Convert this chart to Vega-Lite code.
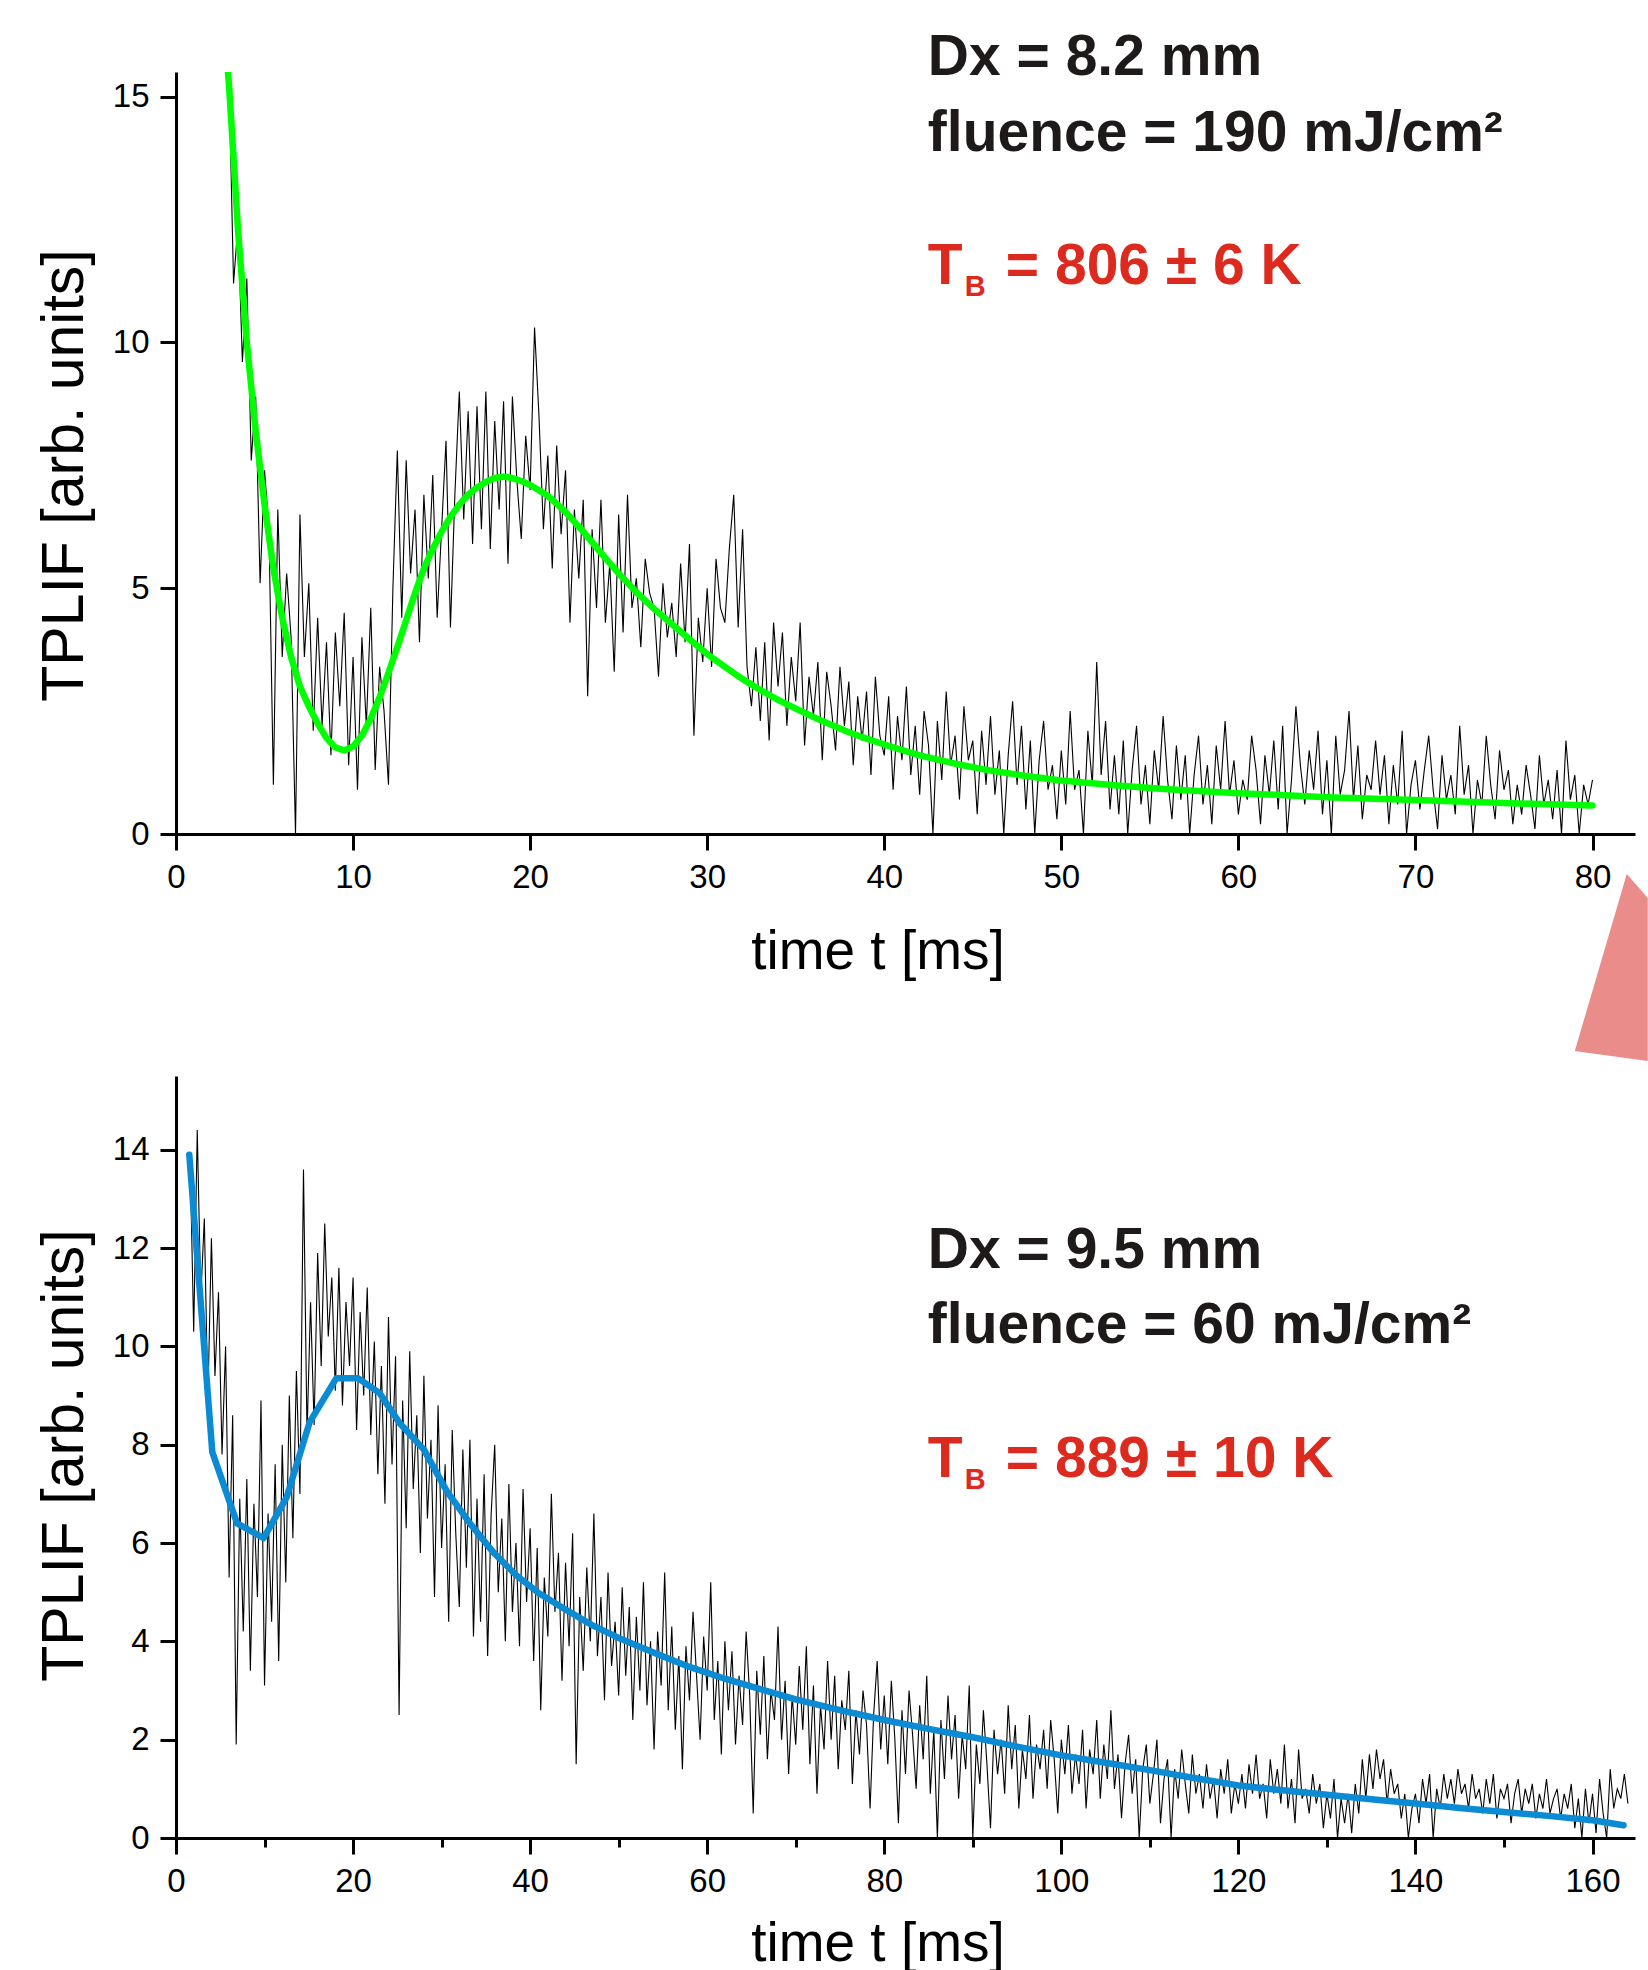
{
"$schema": "https://vega.github.io/schema/vega-lite/v6.json",
"background": "white",
"padding": {"left": 35, "top": 29, "right": 0, "bottom": 0},
"autosize": {"type": "pad"},
"bounds": "flush",
"spacing": 242,
"config": {
  "view": {"stroke": null},
  "axis": {"domainColor": "black", "domainWidth": 3, "tickColor": "black", "tickWidth": 3, "tickSize": 16,
    "labelFont": "Liberation Sans", "labelFontSize": 33, "labelColor": "black", "labelPadding": 11,
    "titleFont": "Liberation Sans", "titleColor": "black", "titleFontWeight": "normal",
    "grid": false, "labelFlush": false, "labelOverlap": false}
},
"datasets": {
"topNoise": [
{"t":3,"v":15.3},{"t":3.25,"v":11.2},{"t":3.5,"v":12.4},{"t":3.75,"v":9.6},
{"t":4,"v":11.3},{"t":4.25,"v":7.6},{"t":4.5,"v":8.9},{"t":4.75,"v":5.1},
{"t":5,"v":7.4},{"t":5.25,"v":6.2},{"t":5.5,"v":1.0},{"t":5.75,"v":6.6},
{"t":6,"v":3.6},{"t":6.25,"v":5.3},{"t":6.5,"v":4.0},{"t":6.75,"v":0.0},
{"t":7,"v":6.5},{"t":7.25,"v":3.6},{"t":7.5,"v":5.1},{"t":7.75,"v":2.1},
{"t":8,"v":4.4},{"t":8.25,"v":2.2},{"t":8.5,"v":3.9},{"t":8.75,"v":1.6},
{"t":9,"v":4.1},{"t":9.25,"v":2.6},{"t":9.5,"v":4.5},{"t":9.75,"v":1.4},
{"t":10,"v":3.6},{"t":10.25,"v":0.9},{"t":10.5,"v":4.0},{"t":10.75,"v":2.2},
{"t":11,"v":4.6},{"t":11.25,"v":1.3},{"t":11.5,"v":3.4},{"t":11.75,"v":2.5},
{"t":12,"v":1.0},{"t":12.25,"v":5.0},{"t":12.5,"v":7.8},{"t":12.75,"v":4.4},
{"t":13,"v":7.6},{"t":13.25,"v":5.3},{"t":13.5,"v":6.6},{"t":13.75,"v":3.9},
{"t":14,"v":6.9},{"t":14.25,"v":5.2},{"t":14.5,"v":7.3},{"t":14.75,"v":4.4},
{"t":15,"v":6.2},{"t":15.25,"v":8.0},{"t":15.5,"v":4.2},{"t":15.75,"v":6.9},
{"t":16,"v":9.0},{"t":16.25,"v":6.4},{"t":16.5,"v":8.6},{"t":16.75,"v":5.9},
{"t":17,"v":8.7},{"t":17.25,"v":6.2},{"t":17.5,"v":9.0},{"t":17.75,"v":5.8},
{"t":18,"v":8.4},{"t":18.25,"v":6.6},{"t":18.5,"v":8.8},{"t":18.75,"v":5.5},
{"t":19,"v":8.9},{"t":19.25,"v":7.2},{"t":19.5,"v":6.0},{"t":19.75,"v":8.1},
{"t":20,"v":7.0},{"t":20.25,"v":10.3},{"t":20.5,"v":8.5},{"t":20.75,"v":6.2},
{"t":21,"v":7.7},{"t":21.25,"v":5.4},{"t":21.5,"v":7.9},{"t":21.75,"v":6.1},
{"t":22,"v":7.4},{"t":22.25,"v":4.3},{"t":22.5,"v":6.6},{"t":22.75,"v":5.2},
{"t":23,"v":6.8},{"t":23.25,"v":2.8},{"t":23.5,"v":6.2},{"t":23.75,"v":4.6},
{"t":24,"v":6.8},{"t":24.25,"v":4.3},{"t":24.5,"v":5.5},{"t":24.75,"v":3.3},
{"t":25,"v":6.5},{"t":25.25,"v":4.1},{"t":25.5,"v":6.9},{"t":25.75,"v":4.6},
{"t":26,"v":5.2},{"t":26.25,"v":3.8},{"t":26.5,"v":5.6},{"t":26.75,"v":4.9},
{"t":27,"v":4.6},{"t":27.25,"v":3.2},{"t":27.5,"v":5.1},{"t":27.75,"v":4.0},
{"t":28,"v":4.7},{"t":28.25,"v":3.6},{"t":28.5,"v":5.5},{"t":28.75,"v":3.9},
{"t":29,"v":5.9},{"t":29.25,"v":2.0},{"t":29.5,"v":4.4},{"t":29.75,"v":3.5},
{"t":30,"v":5.0},{"t":30.25,"v":3.4},{"t":30.5,"v":5.6},{"t":30.75,"v":4.6},
{"t":31,"v":4.3},{"t":31.25,"v":5.8},{"t":31.5,"v":6.9},{"t":31.75,"v":4.2},
{"t":32,"v":6.2},{"t":32.25,"v":3.4},{"t":32.5,"v":2.6},{"t":32.75,"v":3.8},
{"t":33,"v":2.3},{"t":33.25,"v":3.9},{"t":33.5,"v":1.9},{"t":33.75,"v":4.3},
{"t":34,"v":3.0},{"t":34.25,"v":4.1},{"t":34.5,"v":2.2},{"t":34.75,"v":3.6},
{"t":35,"v":2.7},{"t":35.25,"v":4.3},{"t":35.5,"v":1.8},{"t":35.75,"v":3.2},
{"t":36,"v":2.4},{"t":36.25,"v":3.5},{"t":36.5,"v":1.5},{"t":36.75,"v":3.3},
{"t":37,"v":2.6},{"t":37.25,"v":1.7},{"t":37.5,"v":3.4},{"t":37.75,"v":2.2},
{"t":38,"v":3.1},{"t":38.25,"v":1.4},{"t":38.5,"v":2.8},{"t":38.75,"v":1.9},
{"t":39,"v":2.9},{"t":39.25,"v":1.2},{"t":39.5,"v":3.2},{"t":39.75,"v":2.0},
{"t":40,"v":1.6},{"t":40.25,"v":2.8},{"t":40.5,"v":0.9},{"t":40.75,"v":2.4},
{"t":41,"v":1.5},{"t":41.25,"v":3.0},{"t":41.5,"v":1.2},{"t":41.75,"v":2.2},
{"t":42,"v":0.8},{"t":42.25,"v":2.5},{"t":42.5,"v":1.8},{"t":42.75,"v":0.0},
{"t":43,"v":2.3},{"t":43.25,"v":1.1},{"t":43.5,"v":2.9},{"t":43.75,"v":1.4},
{"t":44,"v":2.0},{"t":44.25,"v":0.7},{"t":44.5,"v":2.6},{"t":44.75,"v":1.5},
{"t":45,"v":1.9},{"t":45.25,"v":0.4},{"t":45.5,"v":2.1},{"t":45.75,"v":1.0},
{"t":46,"v":2.4},{"t":46.25,"v":0.8},{"t":46.5,"v":1.7},{"t":46.75,"v":0.0},
{"t":47,"v":1.6},{"t":47.25,"v":2.7},{"t":47.5,"v":1.0},{"t":47.75,"v":2.2},
{"t":48,"v":0.5},{"t":48.25,"v":1.9},{"t":48.5,"v":0.0},{"t":48.75,"v":1.5},
{"t":49,"v":2.3},{"t":49.25,"v":0.9},{"t":49.5,"v":1.4},{"t":49.75,"v":0.3},
{"t":50,"v":1.7},{"t":50.25,"v":0.6},{"t":50.5,"v":2.5},{"t":50.75,"v":0.9},
{"t":51,"v":1.3},{"t":51.25,"v":0.0},{"t":51.5,"v":2.1},{"t":51.75,"v":1.0},
{"t":52,"v":3.5},{"t":52.25,"v":1.2},{"t":52.5,"v":2.3},{"t":52.75,"v":0.5},
{"t":53,"v":1.6},{"t":53.25,"v":0.4},{"t":53.5,"v":1.9},{"t":53.75,"v":0.0},
{"t":54,"v":1.3},{"t":54.25,"v":2.2},{"t":54.5,"v":0.6},{"t":54.75,"v":1.4},
{"t":55,"v":0.2},{"t":55.25,"v":1.7},{"t":55.5,"v":0.9},{"t":55.75,"v":2.4},
{"t":56,"v":1.1},{"t":56.25,"v":0.3},{"t":56.5,"v":1.8},{"t":56.75,"v":0.7},
{"t":57,"v":1.6},{"t":57.25,"v":0.0},{"t":57.5,"v":1.2},{"t":57.75,"v":2.0},
{"t":58,"v":0.6},{"t":58.25,"v":1.4},{"t":58.5,"v":0.2},{"t":58.75,"v":1.8},
{"t":59,"v":0.9},{"t":59.25,"v":2.3},{"t":59.5,"v":0.8},{"t":59.75,"v":1.5},
{"t":60,"v":0.4},{"t":60.25,"v":1.1},{"t":60.5,"v":0.7},{"t":60.75,"v":2.0},
{"t":61,"v":1.3},{"t":61.25,"v":0.2},{"t":61.5,"v":1.6},{"t":61.75,"v":0.8},
{"t":62,"v":1.9},{"t":62.25,"v":0.5},{"t":62.5,"v":2.2},{"t":62.75,"v":0.0},
{"t":63,"v":1.1},{"t":63.25,"v":2.6},{"t":63.5,"v":1.4},{"t":63.75,"v":0.6},
{"t":64,"v":1.7},{"t":64.25,"v":0.9},{"t":64.5,"v":2.1},{"t":64.75,"v":0.4},
{"t":65,"v":1.5},{"t":65.25,"v":0.0},{"t":65.5,"v":2.0},{"t":65.75,"v":0.8},
{"t":66,"v":1.3},{"t":66.25,"v":2.5},{"t":66.5,"v":0.7},{"t":66.75,"v":1.8},
{"t":67,"v":0.3},{"t":67.25,"v":1.2},{"t":67.5,"v":0.9},{"t":67.75,"v":1.9},
{"t":68,"v":0.8},{"t":68.25,"v":1.6},{"t":68.5,"v":0.2},{"t":68.75,"v":1.4},
{"t":69,"v":0.6},{"t":69.25,"v":2.1},{"t":69.5,"v":0.0},{"t":69.75,"v":1.0},
{"t":70,"v":1.5},{"t":70.25,"v":0.5},{"t":70.5,"v":1.3},{"t":70.75,"v":2.0},
{"t":71,"v":0.9},{"t":71.25,"v":0.1},{"t":71.5,"v":1.6},{"t":71.75,"v":0.7},
{"t":72,"v":1.2},{"t":72.25,"v":0.4},{"t":72.5,"v":2.2},{"t":72.75,"v":0.8},
{"t":73,"v":1.4},{"t":73.25,"v":0.0},{"t":73.5,"v":1.1},{"t":73.75,"v":0.6},
{"t":74,"v":2.0},{"t":74.25,"v":1.0},{"t":74.5,"v":0.3},{"t":74.75,"v":1.7},
{"t":75,"v":0.9},{"t":75.25,"v":1.3},{"t":75.5,"v":0.2},{"t":75.75,"v":1.0},
{"t":76,"v":0.4},{"t":76.25,"v":1.4},{"t":76.5,"v":0.8},{"t":76.75,"v":0.1},
{"t":77,"v":1.6},{"t":77.25,"v":0.6},{"t":77.5,"v":1.1},{"t":77.75,"v":0.3},
{"t":78,"v":1.3},{"t":78.25,"v":0.0},{"t":78.5,"v":1.9},{"t":78.75,"v":0.7},
{"t":79,"v":1.2},{"t":79.25,"v":0.0},{"t":79.5,"v":1.0},{"t":79.75,"v":0.6},
{"t":80,"v":1.1}
],
"topFit": [
{"t":2.85,"v":15.9},{"t":3,"v":15.2},{"t":3.5,"v":12.3},{"t":4,"v":10.0},{"t":4.5,"v":8.2},{"t":5,"v":6.7},{"t":5.5,"v":5.4},{"t":6,"v":4.4},{"t":6.5,"v":3.6},{"t":7,"v":3.0},{"t":7.5,"v":2.6},{"t":8,"v":2.25},{"t":8.5,"v":1.95},{"t":9,"v":1.76},{"t":9.5,"v":1.7},{"t":10,"v":1.78},{"t":10.5,"v":2.0},{"t":11,"v":2.35},{"t":11.5,"v":2.78},{"t":12,"v":3.28},{"t":12.5,"v":3.8},{"t":13,"v":4.35},{"t":13.5,"v":4.9},{"t":14,"v":5.4},{"t":14.5,"v":5.8},{"t":15,"v":6.15},{"t":15.5,"v":6.45},{"t":16,"v":6.7},{"t":16.5,"v":6.9},{"t":17,"v":7.05},{"t":17.5,"v":7.16},{"t":18,"v":7.24},{"t":18.5,"v":7.27},{"t":19,"v":7.24},{"t":19.5,"v":7.18},{"t":20,"v":7.1},{"t":21,"v":6.88},{"t":22,"v":6.55},{"t":23,"v":6.15},{"t":24,"v":5.72},{"t":25,"v":5.3},{"t":26,"v":4.92},{"t":27,"v":4.58},{"t":28,"v":4.27},{"t":29,"v":3.96},{"t":30,"v":3.66},{"t":31,"v":3.4},{"t":32,"v":3.15},{"t":33,"v":2.93},{"t":34,"v":2.73},{"t":35,"v":2.55},{"t":36,"v":2.38},{"t":37,"v":2.22},{"t":38,"v":2.07},{"t":39,"v":1.94},{"t":40,"v":1.82},{"t":42,"v":1.6},{"t":44,"v":1.43},{"t":46,"v":1.29},{"t":48,"v":1.18},{"t":50,"v":1.09},{"t":53,"v":0.99},{"t":56,"v":0.91},{"t":60,"v":0.83},{"t":65,"v":0.75},{"t":70,"v":0.69},{"t":75,"v":0.63},{"t":80,"v":0.58}
],
"topText": [
{"t":42.46,"v":15.43,"label":"Dx = 8.2 mm"},
{"t":42.46,"v":13.9,"label":"fluence = 190 mJ/cm²"}
],
"topRed": [{"t":42.46,"v":11.19,"main":"T","sub":"B","rest":"= 806 ± 6 K"}],
"deco": [{"t":81.06,"v":-2.717}],
"botNoise": [
{"t":1.6,"v":13.8},
{"t":2,"v":10.3},{"t":2.4,"v":14.4},{"t":2.8,"v":11.0},{"t":3.2,"v":12.6},{"t":3.6,"v":8.9},
{"t":4,"v":12.2},{"t":4.4,"v":9.4},{"t":4.8,"v":11.1},{"t":5.2,"v":7.8},{"t":5.6,"v":10.0},
{"t":6,"v":5.3},{"t":6.4,"v":8.6},{"t":6.8,"v":1.9},{"t":7.2,"v":6.9},{"t":7.6,"v":4.2},
{"t":8,"v":7.3},{"t":8.4,"v":3.4},{"t":8.8,"v":6.8},{"t":9.2,"v":4.9},{"t":9.6,"v":8.9},
{"t":10,"v":3.1},{"t":10.4,"v":6.6},{"t":10.8,"v":4.4},{"t":11.2,"v":7.6},{"t":11.6,"v":3.6},
{"t":12,"v":8.0},{"t":12.4,"v":5.2},{"t":12.8,"v":9.0},{"t":13.2,"v":6.1},{"t":13.6,"v":9.5},
{"t":14,"v":7.0},{"t":14.4,"v":13.6},{"t":14.8,"v":8.2},{"t":15.2,"v":10.9},{"t":15.6,"v":8.4},
{"t":16,"v":11.9},{"t":16.4,"v":9.6},{"t":16.8,"v":12.5},{"t":17.2,"v":10.2},{"t":17.6,"v":11.4},
{"t":18,"v":9.1},{"t":18.4,"v":11.6},{"t":18.8,"v":8.8},{"t":19.2,"v":10.9},{"t":19.6,"v":9.6},
{"t":20,"v":11.4},{"t":20.4,"v":8.3},{"t":20.8,"v":10.7},{"t":21.2,"v":9.0},{"t":21.6,"v":11.2},
{"t":22,"v":8.2},{"t":22.4,"v":10.1},{"t":22.8,"v":7.4},{"t":23.2,"v":9.6},{"t":23.6,"v":6.8},
{"t":24,"v":10.6},{"t":24.4,"v":7.6},{"t":24.8,"v":9.8},{"t":25.2,"v":2.5},{"t":25.6,"v":8.9},
{"t":26,"v":6.3},{"t":26.4,"v":9.9},{"t":26.8,"v":7.1},{"t":27.2,"v":8.6},{"t":27.6,"v":5.8},
{"t":28,"v":9.4},{"t":28.4,"v":6.5},{"t":28.8,"v":8.1},{"t":29.2,"v":4.9},{"t":29.6,"v":8.8},
{"t":30,"v":5.9},{"t":30.4,"v":7.6},{"t":30.8,"v":4.4},{"t":31.2,"v":8.3},{"t":31.6,"v":6.2},
{"t":32,"v":4.7},{"t":32.4,"v":7.9},{"t":32.8,"v":5.5},{"t":33.2,"v":8.1},{"t":33.6,"v":4.1},
{"t":34,"v":6.9},{"t":34.4,"v":4.4},{"t":34.8,"v":7.4},{"t":35.2,"v":3.7},{"t":35.6,"v":6.6},
{"t":36,"v":8.0},{"t":36.4,"v":5.0},{"t":36.8,"v":6.5},{"t":37.2,"v":4.0},{"t":37.6,"v":7.2},
{"t":38,"v":4.6},{"t":38.4,"v":6.0},{"t":38.8,"v":3.9},{"t":39.2,"v":7.1},{"t":39.6,"v":4.8},
{"t":40,"v":6.3},{"t":40.4,"v":3.6},{"t":40.8,"v":5.9},{"t":41.2,"v":2.6},{"t":41.6,"v":5.3},
{"t":42,"v":4.1},{"t":42.4,"v":7.0},{"t":42.8,"v":4.6},{"t":43.2,"v":5.8},{"t":43.6,"v":3.2},
{"t":44,"v":5.6},{"t":44.4,"v":3.9},{"t":44.8,"v":6.2},{"t":45.2,"v":1.5},{"t":45.6,"v":4.9},
{"t":46,"v":3.4},{"t":46.4,"v":5.5},{"t":46.8,"v":4.0},{"t":47.2,"v":6.6},{"t":47.6,"v":3.7},
{"t":48,"v":4.9},{"t":48.4,"v":2.8},{"t":48.8,"v":5.4},{"t":49.2,"v":3.5},{"t":49.6,"v":4.4},
{"t":50,"v":2.9},{"t":50.4,"v":5.1},{"t":50.8,"v":3.3},{"t":51.2,"v":4.7},{"t":51.6,"v":2.4},
{"t":52,"v":4.5},{"t":52.4,"v":3.0},{"t":52.8,"v":5.2},{"t":53.2,"v":2.7},{"t":53.6,"v":4.0},
{"t":54,"v":1.8},{"t":54.4,"v":4.2},{"t":54.8,"v":3.1},{"t":55.2,"v":5.4},{"t":55.6,"v":2.6},
{"t":56,"v":4.3},{"t":56.4,"v":2.2},{"t":56.8,"v":3.7},{"t":57.2,"v":1.4},{"t":57.6,"v":3.9},
{"t":58,"v":2.8},{"t":58.4,"v":4.6},{"t":58.8,"v":3.3},{"t":59.2,"v":2.0},{"t":59.6,"v":4.1},
{"t":60,"v":3.0},{"t":60.4,"v":5.2},{"t":60.8,"v":2.4},{"t":61.2,"v":3.6},{"t":61.6,"v":1.7},
{"t":62,"v":4.0},{"t":62.4,"v":2.6},{"t":62.8,"v":3.8},{"t":63.2,"v":1.9},{"t":63.6,"v":3.3},
{"t":64,"v":2.3},{"t":64.4,"v":4.2},{"t":64.8,"v":2.9},{"t":65.2,"v":0.5},{"t":65.6,"v":3.4},
{"t":66,"v":2.1},{"t":66.4,"v":3.7},{"t":66.8,"v":1.6},{"t":67.2,"v":3.0},{"t":67.6,"v":2.4},
{"t":68,"v":4.3},{"t":68.4,"v":2.0},{"t":68.8,"v":3.2},{"t":69.2,"v":1.3},{"t":69.6,"v":2.9},
{"t":70,"v":1.9},{"t":70.4,"v":3.5},{"t":70.8,"v":2.2},{"t":71.2,"v":3.9},{"t":71.6,"v":1.5},
{"t":72,"v":3.1},{"t":72.4,"v":0.9},{"t":72.8,"v":2.7},{"t":73.2,"v":1.8},{"t":73.6,"v":3.6},
{"t":74,"v":2.0},{"t":74.4,"v":3.3},{"t":74.8,"v":1.4},{"t":75.2,"v":2.8},{"t":75.6,"v":2.2},
{"t":76,"v":3.4},{"t":76.4,"v":1.1},{"t":76.8,"v":2.6},{"t":77.2,"v":1.7},{"t":77.6,"v":3.0},
{"t":78,"v":2.3},{"t":78.4,"v":0.6},{"t":78.8,"v":2.5},{"t":79.2,"v":3.6},{"t":79.6,"v":1.8},
{"t":80,"v":2.9},{"t":80.4,"v":1.5},{"t":80.8,"v":3.2},{"t":81.2,"v":2.0},{"t":81.6,"v":0.3},
{"t":82,"v":2.6},{"t":82.4,"v":1.3},{"t":82.8,"v":3.0},{"t":83.2,"v":2.1},{"t":83.6,"v":1.0},
{"t":84,"v":2.7},{"t":84.4,"v":1.6},{"t":84.8,"v":3.3},{"t":85.2,"v":0.9},{"t":85.6,"v":2.2},
{"t":86,"v":0.0},{"t":86.4,"v":2.4},{"t":86.8,"v":1.2},{"t":87.2,"v":2.9},{"t":87.6,"v":1.6},
{"t":88,"v":2.5},{"t":88.4,"v":0.8},{"t":88.8,"v":2.1},{"t":89.2,"v":1.4},{"t":89.6,"v":3.1},
{"t":90,"v":0.0},{"t":90.4,"v":1.9},{"t":90.8,"v":1.1},{"t":91.2,"v":2.6},{"t":91.6,"v":1.5},
{"t":92,"v":0.2},{"t":92.4,"v":2.2},{"t":92.8,"v":1.3},{"t":93.2,"v":2.0},{"t":93.6,"v":0.9},
{"t":94,"v":2.7},{"t":94.4,"v":1.4},{"t":94.8,"v":2.3},{"t":95.2,"v":0.6},{"t":95.6,"v":1.8},
{"t":96,"v":1.2},{"t":96.4,"v":2.5},{"t":96.8,"v":0.8},{"t":97.2,"v":1.9},{"t":97.6,"v":1.4},
{"t":98,"v":2.2},{"t":98.4,"v":1.0},{"t":98.8,"v":2.4},{"t":99.2,"v":1.6},{"t":99.6,"v":0.5},
{"t":100,"v":2.0},{"t":100.4,"v":1.3},{"t":100.8,"v":2.3},{"t":101.2,"v":0.9},{"t":101.6,"v":1.7},
{"t":102,"v":1.1},{"t":102.4,"v":2.2},{"t":102.8,"v":0.6},{"t":103.2,"v":1.8},{"t":103.6,"v":1.3},
{"t":104,"v":2.4},{"t":104.4,"v":0.8},{"t":104.8,"v":1.9},{"t":105.2,"v":1.2},{"t":105.6,"v":2.6},
{"t":106,"v":1.0},{"t":106.4,"v":1.7},{"t":106.8,"v":0.4},{"t":107.2,"v":1.5},{"t":107.6,"v":2.1},
{"t":108,"v":0.9},{"t":108.4,"v":1.6},{"t":108.8,"v":0.0},{"t":109.2,"v":1.4},{"t":109.6,"v":1.9},
{"t":110,"v":0.7},{"t":110.4,"v":1.3},{"t":110.8,"v":2.0},{"t":111.2,"v":0.3},{"t":111.6,"v":1.2},
{"t":112,"v":1.6},{"t":112.4,"v":0.0},{"t":112.8,"v":1.4},{"t":113.2,"v":0.8},{"t":113.6,"v":1.8},
{"t":114,"v":1.1},{"t":114.4,"v":0.5},{"t":114.8,"v":1.7},{"t":115.2,"v":0.9},{"t":115.6,"v":1.3},
{"t":116,"v":0.6},{"t":116.4,"v":1.5},{"t":116.8,"v":0.8},{"t":117.2,"v":1.2},{"t":117.6,"v":0.4},
{"t":118,"v":1.4},{"t":118.4,"v":0.9},{"t":118.8,"v":1.6},{"t":119.2,"v":0.5},{"t":119.6,"v":1.1},
{"t":120,"v":0.7},{"t":120.4,"v":1.3},{"t":120.8,"v":0.6},{"t":121.2,"v":1.5},{"t":121.6,"v":0.9},
{"t":122,"v":1.7},{"t":122.4,"v":0.8},{"t":122.8,"v":1.1},{"t":123.2,"v":0.4},{"t":123.6,"v":1.6},
{"t":124,"v":0.9},{"t":124.4,"v":1.4},{"t":124.8,"v":0.7},{"t":125.2,"v":1.9},{"t":125.6,"v":0.6},
{"t":126,"v":1.2},{"t":126.4,"v":0.3},{"t":126.8,"v":1.8},{"t":127.2,"v":0.8},{"t":127.6,"v":1.0},
{"t":128,"v":0.5},{"t":128.4,"v":1.3},{"t":128.8,"v":0.7},{"t":129.2,"v":1.1},{"t":129.6,"v":0.2},
{"t":130,"v":0.9},{"t":130.4,"v":0.4},{"t":130.8,"v":1.2},{"t":131.2,"v":0.0},{"t":131.6,"v":0.8},
{"t":132,"v":0.3},{"t":132.4,"v":0.9},{"t":132.8,"v":0.1},{"t":133.2,"v":1.1},{"t":133.6,"v":0.5},
{"t":134,"v":1.6},{"t":134.4,"v":0.8},{"t":134.8,"v":1.7},{"t":135.2,"v":1.0},{"t":135.6,"v":1.8},
{"t":136,"v":1.2},{"t":136.4,"v":1.6},{"t":136.8,"v":0.7},{"t":137.2,"v":1.4},{"t":137.6,"v":0.9},
{"t":138,"v":1.1},{"t":138.4,"v":0.4},{"t":138.8,"v":0.9},{"t":139.2,"v":0.0},{"t":139.6,"v":0.6},
{"t":140,"v":0.9},{"t":140.4,"v":0.3},{"t":140.8,"v":1.2},{"t":141.2,"v":0.7},{"t":141.6,"v":1.3},
{"t":142,"v":0.0},{"t":142.4,"v":1.0},{"t":142.8,"v":0.6},{"t":143.2,"v":1.3},{"t":143.6,"v":0.8},
{"t":144,"v":1.2},{"t":144.4,"v":0.7},{"t":144.8,"v":1.4},{"t":145.2,"v":0.9},{"t":145.6,"v":1.1},
{"t":146,"v":0.6},{"t":146.4,"v":1.3},{"t":146.8,"v":0.8},{"t":147.2,"v":1.0},{"t":147.6,"v":0.5},
{"t":148,"v":1.2},{"t":148.4,"v":0.7},{"t":148.8,"v":1.3},{"t":149.2,"v":0.4},{"t":149.6,"v":1.0},
{"t":150,"v":0.8},{"t":150.4,"v":1.1},{"t":150.8,"v":0.3},{"t":151.2,"v":0.9},{"t":151.6,"v":1.2},
{"t":152,"v":0.5},{"t":152.4,"v":1.0},{"t":152.8,"v":0.7},{"t":153.2,"v":1.1},{"t":153.6,"v":0.4},
{"t":154,"v":0.9},{"t":154.4,"v":0.6},{"t":154.8,"v":1.2},{"t":155.2,"v":0.5},{"t":155.6,"v":0.8},
{"t":156,"v":1.0},{"t":156.4,"v":0.4},{"t":156.8,"v":0.9},{"t":157.2,"v":0.6},{"t":157.6,"v":1.1},
{"t":158,"v":0.2},{"t":158.4,"v":0.8},{"t":158.8,"v":0.0},{"t":159.2,"v":1.0},{"t":159.6,"v":0.3},
{"t":160,"v":0.9},{"t":160.4,"v":0.1},{"t":160.8,"v":1.2},{"t":161.2,"v":0.5},{"t":161.6,"v":0.0},
{"t":162,"v":1.4},{"t":162.4,"v":0.6},{"t":162.8,"v":1.0},{"t":163.2,"v":0.8},{"t":163.6,"v":1.3},
{"t":164,"v":0.7}
],
"botFit": [
{"t":1.5,"v":13.9},{"t":4.1,"v":7.85},{"t":6.9,"v":6.4},{"t":9.9,"v":6.1},{"t":12.5,"v":6.93},{"t":15.1,"v":8.46},{"t":18.1,"v":9.35},{"t":20.6,"v":9.35},{"t":23,"v":9.05},{"t":25.3,"v":8.43},{"t":28,"v":7.9},{"t":30.6,"v":7.05},{"t":33.2,"v":6.4},{"t":35.8,"v":5.82},{"t":38.4,"v":5.35},{"t":41,"v":4.98},{"t":44,"v":4.65},{"t":47,"v":4.33},{"t":50,"v":4.07},{"t":54,"v":3.77},{"t":58,"v":3.48},{"t":62,"v":3.24},{"t":66,"v":3.03},{"t":70,"v":2.82},{"t":75,"v":2.6},{"t":80,"v":2.4},{"t":85,"v":2.22},{"t":90,"v":2.05},{"t":95,"v":1.86},{"t":100,"v":1.68},{"t":105,"v":1.53},{"t":110,"v":1.38},{"t":115,"v":1.22},{"t":120,"v":1.07},{"t":125,"v":0.97},{"t":130,"v":0.88},{"t":135,"v":0.79},{"t":140,"v":0.7},{"t":145,"v":0.61},{"t":150,"v":0.53},{"t":155,"v":0.45},{"t":160,"v":0.36},{"t":163.5,"v":0.26}
],
"botText": [
{"t":84.92,"v":11.59,"label":"Dx = 9.5 mm"},
{"t":84.92,"v":10.06,"label":"fluence = 60 mJ/cm²"}
],
"botRed": [{"t":84.92,"v":7.34,"main":"T","sub":"B","rest":"= 889 ± 10 K"}]
},
"vconcat": [
{
  "width": 1459, "height": 762,
  "layer": [
    {"data": {"name": "topNoise"},
     "mark": {"type": "line", "color": "black", "strokeWidth": 1.1},
     "encoding": {
       "x": {"field": "t", "type": "quantitative", "scale": {"domain": [0, 82.4], "nice": false, "zero": false},
             "axis": {"values": [0,10,20,30,40,50,60,70,80], "title": "time t [ms]", "titleFontSize": 55,
                      "titleX": 701.5, "titleY": 134, "titleBaseline": "alphabetic", "titleAlign": "center", "titleAngle": 0}},
       "y": {"field": "v", "type": "quantitative", "scale": {"domain": [0, 15.5], "nice": false},
             "axis": {"values": [0,5,10,15], "title": "TPLIF [arb. units]", "titleFontSize": 59,
                      "titleX": -94, "titleY": 403, "titleAngle": -90, "titleBaseline": "alphabetic", "titleAlign": "center"}}
     }},
    {"data": {"name": "topFit"},
     "mark": {"type": "line", "color": "#00ff00", "strokeWidth": 6.5, "strokeCap": "round", "strokeJoin": "round", "clip": true},
     "encoding": {"x": {"field": "t", "type": "quantitative"}, "y": {"field": "v", "type": "quantitative"}}},
    {"data": {"name": "topText"},
     "mark": {"type": "text", "align": "left", "baseline": "alphabetic", "font": "Liberation Sans", "fontWeight": "bold", "fontSize": 57, "color": "#1e1a1a"},
     "encoding": {"x": {"field": "t", "type": "quantitative"}, "y": {"field": "v", "type": "quantitative"}, "text": {"field": "label"}}},
    {"data": {"name": "topRed"},
     "mark": {"type": "text", "align": "left", "baseline": "alphabetic", "font": "Liberation Sans", "fontWeight": "bold", "fontSize": 57, "color": "#dc2a1f"},
     "encoding": {"x": {"field": "t", "type": "quantitative"}, "y": {"field": "v", "type": "quantitative"}, "text": {"field": "main"}}},
    {"data": {"name": "topRed"},
     "mark": {"type": "text", "align": "left", "baseline": "alphabetic", "font": "Liberation Sans", "fontWeight": "bold", "fontSize": 29, "dx": 37, "dy": 12, "color": "#dc2a1f"},
     "encoding": {"x": {"field": "t", "type": "quantitative"}, "y": {"field": "v", "type": "quantitative"}, "text": {"field": "sub"}}},
    {"data": {"name": "topRed"},
     "mark": {"type": "text", "align": "left", "baseline": "alphabetic", "font": "Liberation Sans", "fontWeight": "bold", "fontSize": 57, "dx": 78, "color": "#dc2a1f"},
     "encoding": {"x": {"field": "t", "type": "quantitative"}, "y": {"field": "v", "type": "quantitative"}, "text": {"field": "rest"}}},
    {"data": {"name": "deco"},
     "mark": {"type": "point", "shape": "M0.166,-1L0.39,-0.744L0.39,1L-0.39,0.893Z", "size": 34969, "filled": true, "color": "#e98c8a", "opacity": 1, "strokeWidth": 0},
     "encoding": {"x": {"field": "t", "type": "quantitative"}, "y": {"field": "v", "type": "quantitative"}}}
  ]
},
{
  "width": 1459, "height": 762,
  "resolve": {"axis": {"x": "independent"}},
  "layer": [
    {"data": {"name": "botNoise"},
     "mark": {"type": "line", "color": "black", "strokeWidth": 1.1},
     "encoding": {
       "x": {"field": "t", "type": "quantitative", "scale": {"domain": [0, 164.8], "nice": false, "zero": false},
             "axis": {"orient": "bottom", "values": [0,20,40,60,80,100,120,140,160], "title": "time t [ms]", "titleFontSize": 55,
                      "titleX": 701.5, "titleY": 122, "titleBaseline": "alphabetic", "titleAlign": "center", "titleAngle": 0}},
       "y": {"field": "v", "type": "quantitative", "scale": {"domain": [0, 15.5], "nice": false},
             "axis": {"values": [0,2,4,6,8,10,12,14], "title": "TPLIF [arb. units]", "titleFontSize": 59,
                      "titleX": -94, "titleY": 379, "titleAngle": -90, "titleBaseline": "alphabetic", "titleAlign": "center"}}
     }},
    {"data": {"name": "botFit"},
     "mark": {"type": "line", "color": "#0a8bd4", "strokeWidth": 6.5, "strokeCap": "round", "strokeJoin": "round"},
     "encoding": {"x": {"field": "t", "type": "quantitative",
                        "axis": {"orient": "bottom", "values": [10,30,50,70,90,110,130,150], "tickSize": 9, "labels": false, "domain": false, "title": null}},
                  "y": {"field": "v", "type": "quantitative"}}},
    {"data": {"name": "botText"},
     "mark": {"type": "text", "align": "left", "baseline": "alphabetic", "font": "Liberation Sans", "fontWeight": "bold", "fontSize": 57, "color": "#1e1a1a"},
     "encoding": {"x": {"field": "t", "type": "quantitative", "axis": null}, "y": {"field": "v", "type": "quantitative"}, "text": {"field": "label"}}},
    {"data": {"name": "botRed"},
     "mark": {"type": "text", "align": "left", "baseline": "alphabetic", "font": "Liberation Sans", "fontWeight": "bold", "fontSize": 57, "color": "#dc2a1f"},
     "encoding": {"x": {"field": "t", "type": "quantitative", "axis": null}, "y": {"field": "v", "type": "quantitative"}, "text": {"field": "main"}}},
    {"data": {"name": "botRed"},
     "mark": {"type": "text", "align": "left", "baseline": "alphabetic", "font": "Liberation Sans", "fontWeight": "bold", "fontSize": 29, "dx": 37, "dy": 12, "color": "#dc2a1f"},
     "encoding": {"x": {"field": "t", "type": "quantitative", "axis": null}, "y": {"field": "v", "type": "quantitative"}, "text": {"field": "sub"}}},
    {"data": {"name": "botRed"},
     "mark": {"type": "text", "align": "left", "baseline": "alphabetic", "font": "Liberation Sans", "fontWeight": "bold", "fontSize": 57, "dx": 78, "color": "#dc2a1f"},
     "encoding": {"x": {"field": "t", "type": "quantitative", "axis": null}, "y": {"field": "v", "type": "quantitative"}, "text": {"field": "rest"}}}
  ]
}
]
}
